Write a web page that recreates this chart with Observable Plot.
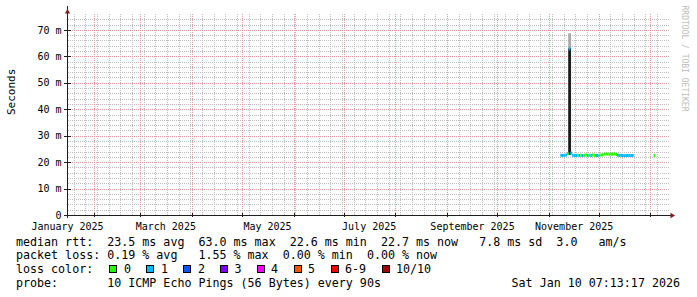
<!DOCTYPE html>
<html><head><meta charset="utf-8">
<script src="https://cdn.jsdelivr.net/npm/d3@7"></script>
<script src="https://cdn.jsdelivr.net/npm/@observablehq/plot@0.6"></script>
<style>
body{margin:0;background:#fff;}
#wrap{position:relative;width:697px;height:297px;overflow:hidden;font-family:"DejaVu Sans Mono",monospace;background:#fff;}
#wrap svg{position:absolute;left:0;top:0;}
.lg{position:absolute;font-size:11.67px;line-height:14px;white-space:pre;color:#000;}
.sw{position:absolute;width:8px;height:8px;box-sizing:border-box;border:1px solid #000;}
</style></head><body><div id="wrap"></div>
<script>
// ---- data ----
const days = [
 "2025-11-08","2025-11-09","2025-11-10","2025-11-11","2025-11-12","2025-11-13","2025-11-14","2025-11-15",
 "2025-11-16","2025-11-17","2025-11-18","2025-11-19","2025-11-20","2025-11-21","2025-11-22","2025-11-23",
 "2025-11-24","2025-11-25","2025-11-26","2025-11-27","2025-11-28","2025-11-29","2025-11-30","2025-12-01",
 "2025-12-02","2025-12-03","2025-12-04","2025-12-05","2025-12-06","2025-12-07","2025-12-08","2025-12-09",
 "2025-12-10","2025-12-11","2025-12-12","2025-12-13","2025-12-14","2025-12-15","2025-12-16","2025-12-17",
 "2025-12-18","2025-12-19","2025-12-20","2025-12-21","2026-01-03"];
const medianMs = [
 22.8,22.7,22.8,22.9,23.4,63.0,23.6,22.8,
 22.7,22.7,22.8,22.7,22.8,22.7,22.8,22.9,
 22.7,22.8,22.7,22.9,22.8,22.7,22.7,22.8,
 22.9,23.0,23.2,23.3,23.3,23.2,23.3,23.2,
 23.3,23.1,22.8,22.7,22.7,22.7,22.6,22.7,
 22.7,22.7,22.7,22.7,22.7];
const lossCount = [
 1,1,1,1,0,1,1,1,
 1,1,0,1,0,1,0,0,
 1,0,1,0,0,1,1,0,
 0,0,0,0,0,0,0,0,
 0,0,1,1,1,1,1,1,
 1,1,1,1,0];
// smoke (spread of the pings) for the spike
const smokeStart = ["2025-11-12T18:00:00Z"];
const smokeEnd   = ["2025-11-14T10:00:00Z"];
const smokeLo = [22.6], smokeHi = [68.7];
const coreLo = [22.8], coreHi = [63.0];

const yMajor = [0,10,20,30,40,50,60,70];
const yMinor = [2,4,6,8,12,14,16,18,22,24,26,28,32,34,36,38,42,44,46,48,52,54,56,58,62,64,66,68,72,74];
const xLabelDates = ["2025-01-16","2025-03-16","2025-05-16","2025-07-16","2025-09-16","2025-11-16"];
const xLabels = ["January 2025","March 2025","May 2025","July 2025","September 2025","November 2025"];
const lossLabels = ["0","1","2","3","4","5","6-9","10/10"];
const lossColors = ["#26ff00","#00b8ff","#0059ff","#7e00ff","#ff00ff","#ff5500","#ff0000","#a10000"];
const legendLines = [
 "median rtt:  23.5 ms avg  63.0 ms max  22.6 ms min  22.7 ms now   7.8 ms sd  3.0   am/s",
 "packet loss: 0.19 % avg   1.55 % max  0.00 % min  0.00 % now",
 "loss color:",
 "probe:       10 ICMP Echo Pings (56 Bytes) every 90s"];
const stamp = "Sat Jan 10 07:13:17 2026";

// ---- build ----
const start = new Date("2025-01-16T00:00:00Z"), end = new Date("2026-01-11T00:00:00Z");
const DAY = 864e5;
const rows = days.map((d,i)=>({t0:new Date(d+"T00:00:00Z"), t1:new Date(+new Date(d+"T00:00:00Z")+DAY), m:medianMs[i], loss:lossCount[i]}));
const smoke = smokeStart.map((s,i)=>({t0:new Date(s), t1:new Date(smokeEnd[i]), lo:smokeLo[i], hi:smokeHi[i], clo:coreLo[i], chi:coreHi[i]}));
const months = d3.utcMonth.range(start, end);
const weeks = d3.utcMonday.range(start, end);
const labelTimes = xLabelDates.map(d=>new Date(d+"T00:00:00Z"));
const gridEnd = new Date(+end + 1.5*DAY);
const font = "DejaVu Sans Mono";

const chart = Plot.plot({
  width: 697, height: 234,
  marginTop: 14, marginBottom: 19, marginLeft: 67, marginRight: 30,
  style: {fontFamily: font, fontSize: "10px", background: "transparent", color: "#000", overflow: "visible"},
  x: {type: "utc", domain: [start, end]},
  y: {domain: [0, 76]},
  marks: [
    Plot.link(yMinor, {x1: start, x2: gridEnd, y1: d => d, y2: d => d, stroke: "#bdbdbd", strokeDasharray: "1,1", shapeRendering: "crispEdges"}),
    Plot.ruleX(weeks, {y1: 0, y2: 76, stroke: "#bdbdbd", strokeDasharray: "1,1", shapeRendering: "crispEdges"}),
    Plot.link(yMajor.filter(v=>v>0), {x1: start, x2: gridEnd, y1: d => d, y2: d => d, stroke: "#e89a9a", strokeDasharray: "1,1", shapeRendering: "crispEdges"}),
    Plot.ruleX(months, {y1: 0, y2: 76, stroke: "#e89a9a", strokeDasharray: "1,1", shapeRendering: "crispEdges"}),
    Plot.rectY(smoke, {x1: "t0", x2: "t1", y1: "lo", y2: "hi", fill: "#a8a8a8"}),
    Plot.rectY(smoke, {x1: "t0", x2: "t1", y1: "clo", y2: "chi", fill: "#1c1c1c"}),
    Plot.ruleY(rows, {x1: "t0", x2: "t1", y: "m", stroke: d => lossColors[d.loss], strokeWidth: 3}),
    // axes
    Plot.ruleY([0], {x1: start, x2: new Date(+end + 3*DAY), stroke: "#1f1f1f", shapeRendering: "crispEdges"}),
    Plot.ruleX([start], {y1: -1.2, y2: 79, stroke: "#1f1f1f", shapeRendering: "crispEdges"}),
    Plot.ruleX(months, {y1: -0.8, y2: 0.8, stroke: "#1f1f1f", shapeRendering: "crispEdges"}),
    Plot.link(yMajor, {x1: new Date(+start - 2.2*DAY), x2: new Date(+start + 1.8*DAY), y1: d => d, y2: d => d, stroke: "#1f1f1f", shapeRendering: "crispEdges"}),
    Plot.axisY({ticks: yMajor, tickSize: 0, tickPadding: 6, tickFormat: d => d === 0 ? "0" : d + " m", fontSize: 10}),
    Plot.axisX({ticks: labelTimes, tickSize: 0, tickPadding: 7, fontSize: 10,
      tickFormat: d => xLabels[labelTimes.findIndex(t => +t === +d)]}),
    Plot.dot([0], {frameAnchor: "top-left", symbol: "triangle", r: 2, fill: "#801f1f", dy: -2.5}),
    Plot.dot([0], {frameAnchor: "bottom-right", symbol: "triangle", r: 2, fill: "#801f1f", rotate: 90, dx: 4.5}),
    Plot.text(["Seconds"], {frameAnchor: "left", rotate: -90, dx: -56.3, fontSize: 11, fill: "#000"}),
    Plot.text(["RRDTOOL / TOBI OETIKER"], {frameAnchor: "top-right", rotate: 90, textAnchor: "start", dx: 20.3, dy: -9, fontSize: 8, fill: "#bdbdbd"})
  ]
});

const wrap = document.getElementById("wrap");
wrap.appendChild(chart);
const tops = [234.5, 248.2, 261.9, 275.6];
legendLines.forEach((s,i)=>{
  const el = document.createElement("div");
  el.className = "lg"; el.style.left = "16px"; el.style.top = tops[i] + "px"; el.textContent = s;
  wrap.appendChild(el);
});
const swLeft = [109, 146, 183, 219.5, 257, 293.5, 330.5, 382];
const labLeft = [124, 161, 198, 234.5, 271, 308, 345, 396];
lossLabels.forEach((l,i)=>{
  const sw = document.createElement("div");
  sw.className = "sw"; sw.style.left = swLeft[i] + "px"; sw.style.top = "265px"; sw.style.background = lossColors[i];
  wrap.appendChild(sw);
  const t = document.createElement("div");
  t.className = "lg"; t.style.left = labLeft[i] + "px"; t.style.top = tops[2] + "px"; t.textContent = l;
  wrap.appendChild(t);
});
const st = document.createElement("div");
st.className = "lg"; st.style.right = (697 - 680) + "px"; st.style.top = tops[3] + "px"; st.textContent = stamp;
wrap.appendChild(st);
</script></body></html>
